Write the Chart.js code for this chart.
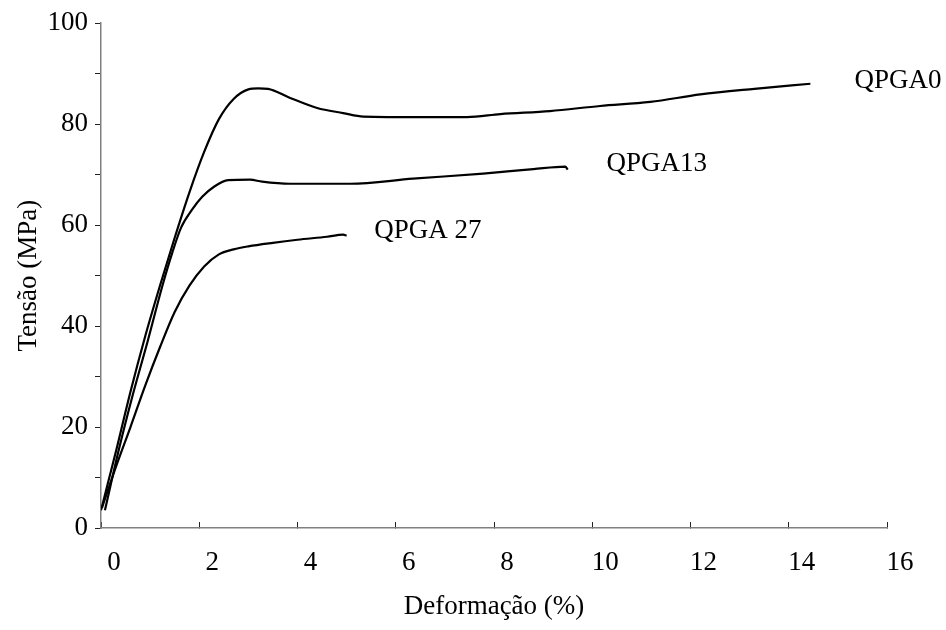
<!DOCTYPE html>
<html lang="pt">
<head>
  <meta charset="UTF-8">
  <title>Tensão x Deformação</title>
  <script src="https://cdn.jsdelivr.net/npm/chart.js"></script>
  <style>
    body { margin: 0; background: #fff; }
    canvas { display: block; }
  </style>
</head>
<body>
  <canvas id="stressChart" width="946" height="630"></canvas>

  <script>
    // strain (%) / stress (MPa) for each sample
    const strainQPGA0 = [0, 0.3, 0.6, 0.9, 1.2, 1.5, 1.8, 2.1, 2.4, 2.7, 3.0, 3.2, 3.4, 3.85, 4.4, 4.93, 5.34, 6.5, 7.45, 8.13, 9.14, 10.16, 11.18, 12.2, 13.3, 14.44];
    const stressQPGA0 = [3.5, 15, 27, 38, 48, 57.5, 66.5, 74.5, 81, 85, 86.9, 87.1, 87, 85.2, 83.2, 82.2, 81.5, 81.4, 81.4, 82, 82.6, 83.6, 84.4, 85.9, 87, 88];

    const strainQPGA13 = [0.08, 0.35, 0.65, 0.95, 1.25, 1.45, 1.63, 1.85, 2.06, 2.3, 2.59, 3.03, 3.28, 3.85, 5.07, 6.35, 7.78, 8.8, 9.45, 9.5];
    const stressQPGA13 = [3.5, 15, 26.5, 37, 48, 54.5, 59.5, 63, 65.6, 67.6, 68.9, 69, 68.6, 68.2, 68.2, 69.2, 70.2, 71.1, 71.6, 71.0];

    const strainQPGA27 = [0.02, 0.3, 0.6, 0.9, 1.2, 1.5, 1.8, 2.1, 2.4, 2.7, 3.0, 3.5, 4.0, 4.6, 4.93, 5.0];
    const stressQPGA27 = [4, 12, 20, 28.2, 35.8, 42.8, 48, 51.8, 54.2, 55.2, 55.8, 56.5, 57.1, 57.7, 58.1, 57.9];

    const seriesNames = ['QPGA0', 'QPGA13', 'QPGA 27'];
    // where each name is written, in axis units (left edge, middle of text)
    const nameAnchors = [[15.34, 88.5], [10.29, 72.1], [5.56, 58.9]];

    const xTicks = [0, 2, 4, 6, 8, 10, 12, 14, 16];
    const yTicks = [0, 20, 40, 60, 80, 100];

    const FONT = 'Liberation Serif, Times New Roman, serif';
    const FONT_SIZE = 27;

    const toPoints = (xs, ys) => xs.map((x, i) => ({ x, y: ys[i] }));

    const curve = (name, xs, ys) => ({
      label: name,
      data: toPoints(xs, ys),
      borderColor: '#000',
      borderWidth: 2.2,
      pointRadius: 0,
      fill: false,
      cubicInterpolationMode: 'monotone'
    });

    // series names written next to the end of each curve
    const curveNames = {
      id: 'curveNames',
      afterDatasetsDraw(chart) {
        const { ctx, scales: { x, y } } = chart;
        ctx.save();
        ctx.font = `${FONT_SIZE}px ${FONT}`;
        ctx.fillStyle = '#000';
        ctx.textAlign = 'left';
        ctx.textBaseline = 'middle';
        seriesNames.forEach((name, i) => {
          const [ax, ay] = nameAnchors[i];
          ctx.fillText(name, x.getPixelForValue(ax), y.getPixelForValue(ay));
        });
        ctx.restore();
      }
    };

    new Chart(document.getElementById('stressChart'), {
      type: 'line',
      data: {
        datasets: [
          curve(seriesNames[0], strainQPGA0, stressQPGA0),
          curve(seriesNames[1], strainQPGA13, stressQPGA13),
          curve(seriesNames[2], strainQPGA27, stressQPGA27)
        ]
      },
      options: {
        responsive: false,
        animation: false,
        layout: { padding: { top: 22, right: 59, left: 0, bottom: 0 } },
        plugins: {
          legend: { display: false },
          tooltip: { enabled: false }
        },
        scales: {
          x: {
            type: 'linear',
            min: 0,
            max: 16,
            afterFit(scale) { scale.height = 102; },
            afterBuildTicks(scale) { scale.ticks = xTicks.map(value => ({ value })); },
            border: { display: true, color: '#808080', width: 1.5 },
            grid: { drawOnChartArea: false, tickLength: -6, color: '#222', tickWidth: 1 },
            ticks: {
              color: '#000',
              font: { family: FONT, size: FONT_SIZE },
              padding: 25,
              labelOffset: 13,
              maxRotation: 0
            },
            title: {
              display: true,
              text: 'Deformação (%)',
              color: '#000',
              font: { family: FONT, size: FONT_SIZE },
              padding: { top: 0, bottom: 7 }
            }
          },
          y: {
            min: 0,
            max: 100,
            afterFit(scale) { scale.width = 101; },
            afterBuildTicks(scale) {
              // minor marks between the labelled ones
              const marks = [];
              for (let v = 0; v <= 100; v += 10) marks.push({ value: v });
              scale.ticks = marks;
            },
            border: { display: true, color: '#808080', width: 1.5 },
            grid: { drawOnChartArea: false, tickLength: 6, color: '#222', tickWidth: 1 },
            ticks: {
              color: '#000',
              font: { family: FONT, size: FONT_SIZE },
              padding: 7,
              callback: value => (yTicks.includes(value) ? value : '')
            },
            title: {
              display: true,
              text: 'Tensão (MPa)',
              color: '#000',
              font: { family: FONT, size: FONT_SIZE },
              padding: { top: 13, bottom: 0 }
            }
          }
        }
      },
      plugins: [curveNames]
    });
  </script>
</body>
</html>
